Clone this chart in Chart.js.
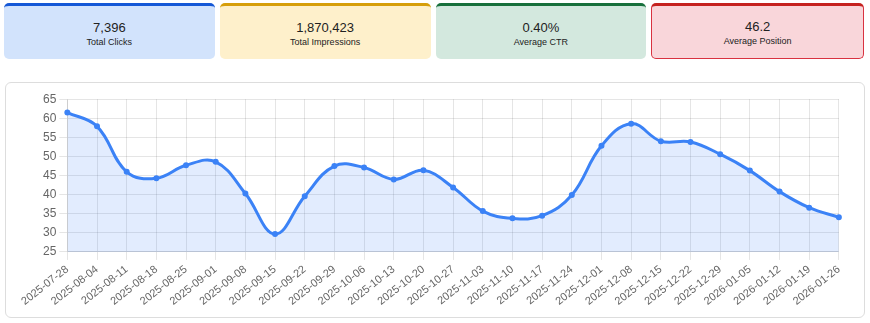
<!DOCTYPE html>
<html>
<head>
<meta charset="utf-8">
<script src="https://cdn.jsdelivr.net/npm/chart.js@4.4.1/dist/chart.umd.min.js"></script>
<style>
    body { margin: 0; background: #fff; font-family: "Liberation Sans", Arial, sans-serif; }
    .cards { display: flex; gap: 5px; padding: 3px 6px 0 4px; }
    .card { flex: 1; height: 56px; box-sizing: border-box; border-radius: 5px; border-top: 3px solid; text-align: center; color: #222; }
    .card .val { font-size: 13px; margin-top: 14px; }
    .card .lbl { font-size: 9px; margin-top: 2px; }
    .c1 { background: #d2e3fc; border-color: #1558d6; }
    .c2 { background: #fef0cb; border-color: #d69e0b; }
    .c3 { background: #d3e8de; border-color: #18703c; }
    .c4 { background: #f9d6da; border: 1px solid #d93240; border-top: 3px solid #c5221f; }
    .c4 .val { margin-top: 13px; }
    .box { position: absolute; left: 5px; top: 82px; width: 860px; height: 236px; box-sizing: border-box; border: 1px solid #ddd; border-radius: 6px; padding: 6px 14px 6px 14px; }
    .box canvas { width: 100%; height: 100%; }
</style>
</head>
<body>
<div class="cards">
    <div class="card c1"><div class="val">7,396</div><div class="lbl">Total Clicks</div></div>
    <div class="card c2"><div class="val">1,870,423</div><div class="lbl">Total Impressions</div></div>
    <div class="card c3"><div class="val">0.40%</div><div class="lbl">Average CTR</div></div>
    <div class="card c4"><div class="val">46.2</div><div class="lbl">Average Position</div></div>
</div>
<div class="box"><canvas id="id_position"></canvas></div>
<script>
(function() {
    "use strict";
    var weeks = ['2025-07-28', '2025-08-04', '2025-08-11', '2025-08-18', '2025-08-25', '2025-09-01',
        '2025-09-08', '2025-09-15', '2025-09-22', '2025-09-29', '2025-10-06', '2025-10-13', '2025-10-20',
        '2025-10-27', '2025-11-03', '2025-11-10', '2025-11-17', '2025-11-24', '2025-12-01', '2025-12-08',
        '2025-12-15', '2025-12-22', '2025-12-29', '2026-01-05', '2026-01-12', '2026-01-19', '2026-01-26'];
    var position = [61.5, 57.9, 46.0, 44.3, 47.7, 48.6, 40.3, 29.7, 39.6, 47.5, 47.1, 44.0, 46.4,
        41.9, 35.7, 33.8, 34.5, 39.9, 52.8, 58.6, 54.0, 53.8, 50.6, 46.3, 40.8, 36.6, 34.1];
    var y_min = 25, y_max = 65, y_step = 5;

    var ctx = document.getElementById("id_position").getContext("2d");
    var chart = new Chart(ctx, {
        type: 'line',
        data: {
            labels: weeks,
            datasets: [{
                label: 'Average Position',
                data: position,
                borderColor: '#3b82f6',
                backgroundColor: 'rgba(59,130,246,0.15)',
                borderWidth: 3,
                pointRadius: 1.5,
                pointBackgroundColor: 'rgba(59,130,246,0.5)',
                fill: true,
                tension: 0.4
            }]
        },
        options: {
            responsive: true,
            maintainAspectRatio: false,
            animation: false,
            plugins: { legend: { display: false }, tooltip: { enabled: false } },
            scales: {
                x: {
                    ticks: { autoSkip: false, minRotation: 38, maxRotation: 38, font: { size: 11 } }
                },
                y: {
                    min: y_min,
                    max: y_max,
                    ticks: { stepSize: y_step }
                }
            }
        }
    });
})();
</script>
</body>
</html>
